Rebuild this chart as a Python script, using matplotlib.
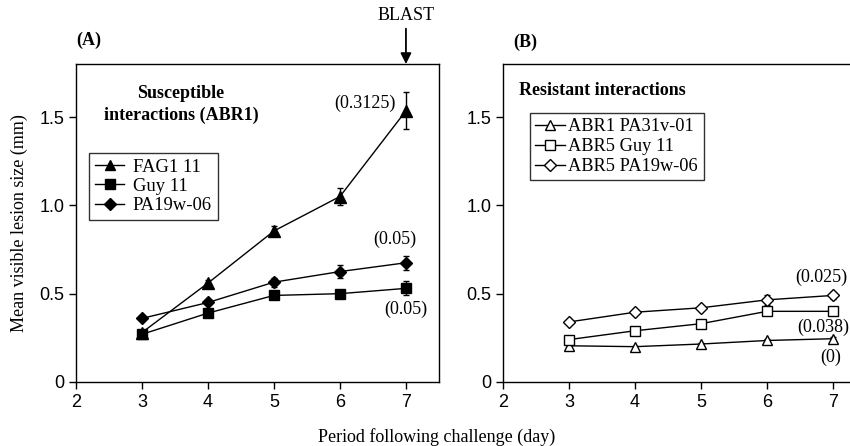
import numpy as np
import matplotlib
matplotlib.use('Agg')
import matplotlib.pyplot as plt
from matplotlib.lines import Line2D

days = [3, 4, 5, 6, 7]

# panel A - susceptible
fag1 = [0.28, 0.56, 0.855, 1.05, 1.535]
fag1_err = [0.01, 0.02, 0.03, 0.05, 0.105]
guy11 = [0.27, 0.39, 0.49, 0.50, 0.53]
guy11_err = [0.01, 0.01, 0.01, 0.01, 0.04]
pa19w = [0.36, 0.45, 0.565, 0.625, 0.675]
pa19w_err = [0.01, 0.01, 0.025, 0.035, 0.04]

# panel B - resistant
abr1_pa31 = [0.205, 0.20, 0.215, 0.235, 0.245]
abr1_pa31_err = [0.005, 0.005, 0.005, 0.01, 0.01]
abr5_guy = [0.24, 0.29, 0.33, 0.40, 0.40]
abr5_guy_err = [0.005, 0.01, 0.01, 0.02, 0.01]
abr5_pa19 = [0.34, 0.395, 0.42, 0.465, 0.49]
abr5_pa19_err = [0.005, 0.01, 0.01, 0.03, 0.02]

labels_a = ['FAG1 11', 'Guy 11', 'PA19w-06']
labels_b = ['ABR1 PA31v-01', 'ABR5 Guy 11', 'ABR5 PA19w-06']

serif = 'Liberation Serif'
sans = 'Liberation Sans'
fs = 13

fig = plt.figure(figsize=(8.5, 4.46), dpi=100)
axA = fig.add_axes([0.0894, 0.1435, 0.427, 0.713])
axB = fig.add_axes([0.5918, 0.1435, 0.427, 0.713])


def style(ax):
    ax.set_xlim(2, 7.5)
    ax.set_ylim(0, 1.8)
    ax.set_xticks([2, 3, 4, 5, 6, 7])
    ax.set_yticks([0, 0.5, 1.0, 1.5])
    ax.set_yticklabels(['0', '0.5', '1.0', '1.5'])
    ax.tick_params(direction='out', length=5, width=1, labelsize=13)
    for lab in ax.get_xticklabels() + ax.get_yticklabels():
        lab.set_family(sans)
    for sp in ax.spines.values():
        sp.set_linewidth(1)


def series(ax, y, err, marker, filled, ms):
    ax.errorbar(days, y, yerr=err, color='black', lw=1, marker=marker,
                ms=ms, mfc='black' if filled else 'white', mec='black',
                mew=1, capsize=2, elinewidth=1, clip_on=False)


series(axA, fag1, fag1_err, '^', True, 8)
series(axA, guy11, guy11_err, 's', True, 7)
series(axA, pa19w, pa19w_err, 'D', True, 6.5)
series(axB, abr1_pa31, abr1_pa31_err, '^', False, 7.5)
series(axB, abr5_guy, abr5_guy_err, 's', False, 7.5)
series(axB, abr5_pa19, abr5_pa19_err, 'D', False, 6.5)
style(axA)
style(axB)


def handles(filled):
    fc = 'black' if filled else 'white'
    return [Line2D([], [], color='black', lw=1, marker=m, ms=s, mfc=fc, mec='black')
            for m, s in [('^', 7.5), ('s', 7), ('D', 6.5)]]


legA = axA.legend(handles(True), labels_a, loc='upper left', bbox_to_anchor=(0.036, 0.72),
                  prop={'family': serif, 'size': 13.4}, frameon=True, fancybox=False,
                  edgecolor='black', handlelength=1.6, handletextpad=0.45,
                  labelspacing=0.12, borderpad=0.3, borderaxespad=0)
legA.get_frame().set_linewidth(1)
legB = axB.legend(handles(False), labels_b, loc='upper left', bbox_to_anchor=(0.074, 0.846),
                  prop={'family': serif, 'size': 13.2}, frameon=True, fancybox=False,
                  edgecolor='black', handlelength=1.6, handletextpad=0.2,
                  labelspacing=0.15, borderpad=0.3, borderaxespad=0)
legB.get_frame().set_linewidth(1)

axA.text(3.59, 1.57, 'Susceptible\ninteractions (ABR1)', family=serif, weight='bold',
         fontsize=fs, ha='center', va='center', linespacing=1.3)
axB.text(2.24, 1.65, 'Resistant interactions', family=serif, weight='bold',
         fontsize=fs, ha='left', va='center')

axA.text(6.84, 1.575, '(0.3125)', family=serif, fontsize=fs, ha='right', va='center')
axA.text(6.83, 0.81, '(0.05)', family=serif, fontsize=fs, ha='center', va='center')
axA.text(7.0, 0.41, '(0.05)', family=serif, fontsize=fs, ha='center', va='center')
axB.text(6.82, 0.59, '(0.025)', family=serif, fontsize=fs, ha='center', va='center')
axB.text(6.46, 0.31, '(0.038)', family=serif, fontsize=fs, ha='left', va='center',
         clip_on=False)
axB.text(6.97, 0.14, '(0)', family=serif, fontsize=fs, ha='center', va='center')

fig.text(76 / 850, 1 - 40 / 446, '(A)', family=serif, weight='bold', fontsize=fs,
         ha='left', va='center')
fig.text(513 / 850, 1 - 42 / 446, '(B)', family=serif, weight='bold', fontsize=fs,
         ha='left', va='center')
axA.text(7, 2.077, 'BLAST', family=serif, fontsize=fs, ha='center', va='center',
         clip_on=False)
axA.annotate('', xy=(7, 1.8), xycoords='data', xytext=(7, 2.0), textcoords='data',
             annotation_clip=False,
             arrowprops=dict(arrowstyle='-|>', color='black', lw=1.3,
                             mutation_scale=16, shrinkA=0, shrinkB=0))

axA.set_ylabel('Mean visible lesion size (mm)', family=serif, fontsize=fs, labelpad=8)
fig.text(437 / 850, 1 - 437 / 446, 'Period following challenge (day)', family=serif,
         fontsize=fs, ha='center', va='center')

fig.savefig('out.png', dpi=100)
